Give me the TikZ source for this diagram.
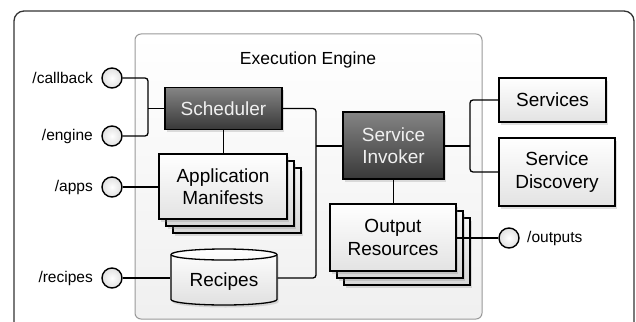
\documentclass[tikz,border=0pt]{standalone}
\usepackage{fontspec}
\setmainfont{Liberation Sans}
\usetikzlibrary{shadows}
\begin{document}
\begin{tikzpicture}[x=1pt,y=-1pt,
  wire/.style={line width=1.3pt, rounded corners=3pt},
  shad/.style={drop shadow={opacity=0.25, shadow xshift=1.5pt, shadow yshift=-2.5pt}},
  base/.style={draw=black, line width=1.3pt, align=center, inner sep=0pt, font=\fontsize{19}{22.5}\selectfont},
  darkbox/.style={base, shad, top color=black!48, bottom color=black!78, text=white!94!black},
  lightbox/.style={base, shad, top color=white, bottom color=black!11},
  layer/.style={draw=black, line width=1.3pt, inner sep=0pt, shad, top color=black!4, bottom color=black!16},
  port/.style={circle, draw=black, line width=1.4pt, minimum size=20pt, inner sep=0pt, inner color=white, outer color=black!12},
  plabel/.style={font=\fontsize{15.5}{18}\selectfont, inner sep=0pt}
]
\useasboundingbox (0,0) rectangle (636,321);
\clip (0,0) rectangle (636,321);
\fill[white] (0,0) rectangle (636,321);

% outer frame and engine box
\draw[line width=1.3pt, draw=black!80, rounded corners=10pt] (14,11) rectangle (634,345);
\draw[draw=black!40, line width=1pt, rounded corners=6pt, top color=white, bottom color=black!6] (135,34) rectangle (482,319);
\node[font=\fontsize{17.5}{20}\selectfont, inner sep=0pt] (title) at (308,60) {Execution Engine};

% ports
\node[port] (cb) at (112,78) {};
\node[port] (en) at (112,136) {};
\node[port] (ap) at (112,187) {};
\node[port] (re) at (112,278) {};
\node[port] (op) at (509,238) {};
\node[plabel, anchor=east] (cbl) at (93,78) {/callback};
\node[plabel, anchor=east] (enl) at (93,136) {/engine};
\node[plabel, anchor=east] (apl) at (93,187) {/apps};
\node[plabel, anchor=east] (rel) at (93,278) {/recipes};
\node[plabel, anchor=west] (opl) at (527,238) {/outputs};

% main boxes
\node[darkbox, minimum width=117pt, minimum height=42pt] (sched) at (223.5,108.5) {Scheduler};
\node[darkbox, minimum width=101pt, minimum height=67pt] (inv) at (393.5,145.5) {Service\\Invoker};
\node[lightbox, minimum width=107pt, minimum height=44pt] (svc) at (552.5,100) {Services};
\node[lightbox, minimum width=116pt, minimum height=68pt] (disc) at (557,172) {Service\\Discovery};

% application manifests stack
\node[layer, minimum width=128pt, minimum height=65pt] (am3) at (237,200.5) {};
\node[layer, minimum width=128pt, minimum height=65pt] (am2) at (230,193.5) {};
\node[lightbox, minimum width=128pt, minimum height=65pt] (am) at (223,186.5) {Application\\Manifests};

% output resources stack
\node[layer, minimum width=126pt, minimum height=67pt] (out3) at (407,251.5) {};
\node[layer, minimum width=126pt, minimum height=67pt] (out2) at (400,244.5) {};
\node[lightbox, minimum width=126pt, minimum height=67pt] (out) at (393,237.5) {Output\\Resources};

% recipes cylinder
\path[shad, draw=black, line width=1.3pt, top color=white, bottom color=black!12]
  (171,254.5) -- (171,299.5) arc[start angle=180, end angle=360, x radius=53pt, y radius=5.5pt]
  -- (277,254.5) arc[start angle=0, end angle=180, x radius=53pt, y radius=5.5pt] -- cycle;
\draw[line width=1.3pt] (171,254.5) arc[start angle=180, end angle=360, x radius=53pt, y radius=5.5pt];
\node[base, draw=none, minimum width=106pt, minimum height=44pt] (rec) at (224,282) {Recipes};

% junctions
\coordinate (jL) at (148,108.5);
\coordinate (jM) at (316,146);
\coordinate (jR) at (470,146);

% wires
\draw[wire] (cb) -| (jL) |- (en);
\draw[wire] (jL) -- (sched.west);
\draw[wire] (sched.south) -- (sched.south |- am.north);
\draw[wire] (ap) -- (ap -| am.west);
\draw[wire] (re) -- (re -| rec.west);
\draw[wire] (sched.east) -| (jM) |- (re -| rec.east);
\draw[wire] (jM) -- (jM -| inv.west);
\draw[wire] (svc.west) -| (jR) |- (disc.west);
\draw[wire] (jR -| inv.east) -- (jR);
\draw[wire] (inv.south) -- (inv.south |- out.north);
\draw[wire] (op -| out.east) -- (op);
\end{tikzpicture}
\end{document}
